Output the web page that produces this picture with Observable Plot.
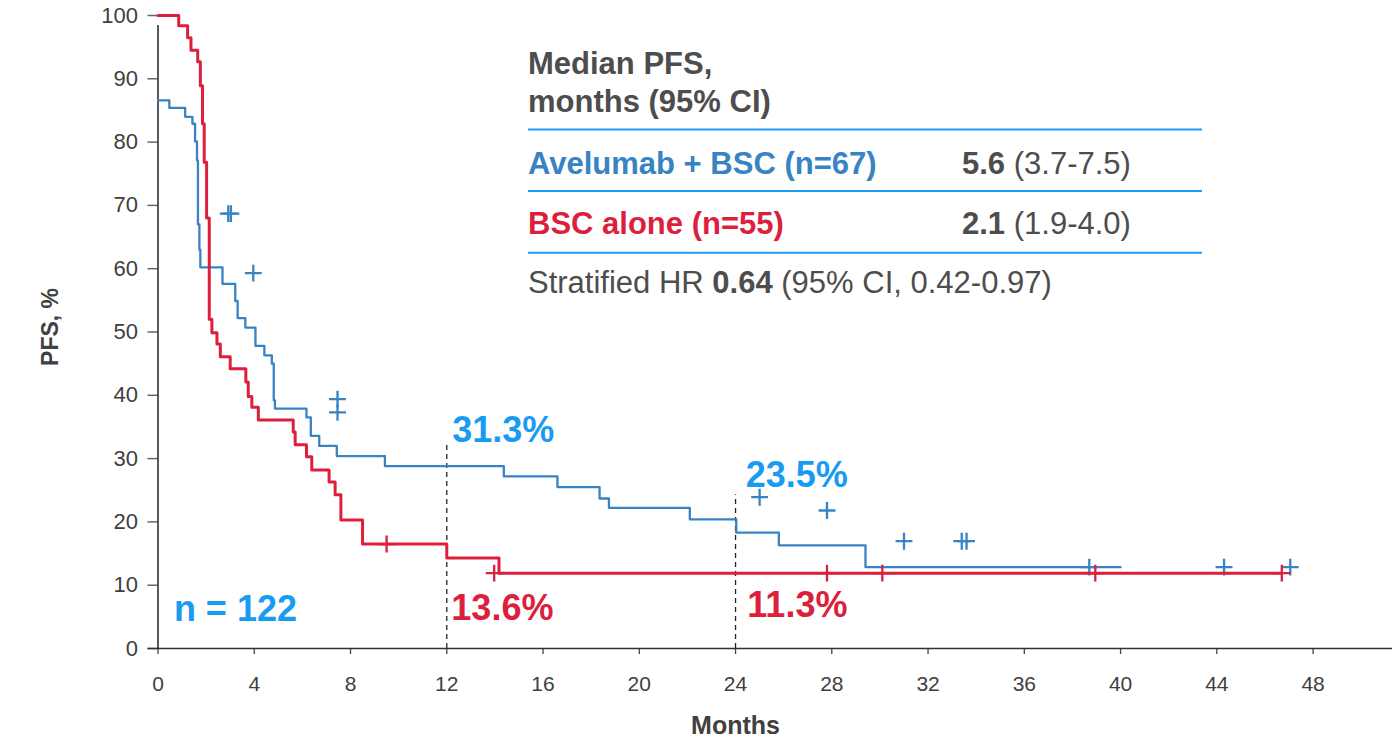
<!DOCTYPE html>
<html><head><meta charset="utf-8">
<script src="https://cdn.jsdelivr.net/npm/d3@7"></script>
<script src="https://cdn.jsdelivr.net/npm/@observablehq/plot@0.6"></script>
<style>
html,body{margin:0;padding:0;background:#fff;}
#chart{width:1392px;height:741px;}
</style></head><body><div id="chart"></div>
<script>
// ---- data ----
const avelumabTime = [0, 0.47, 1.13, 1.43, 1.54, 1.62, 1.66, 1.72, 1.76, 2.68, 3.21, 3.31, 3.63, 4.05, 4.42, 4.73, 4.81, 4.86, 6.17, 6.35, 6.70, 7.43, 9.43, 14.37, 16.6, 18.35, 18.74, 22.1, 24.03, 25.8, 29.4, 40.0];
const avelumabPFS  = [86.6, 85.4, 84.0, 82.9, 80.1, 77.1, 67.0, 63.0, 60.2, 57.6, 54.9, 52.2, 50.7, 47.8, 46.3, 45.0, 39.2, 37.9, 36.5, 33.6, 32.0, 30.4, 28.8, 27.2, 25.5, 23.7, 22.2, 20.4, 18.3, 16.3, 12.85, 12.85];
const bscTime = [0, 0.86, 1.23, 1.37, 1.65, 1.76, 1.85, 1.92, 2.02, 2.13, 2.24, 2.45, 2.59, 3.0, 3.65, 3.75, 3.9, 4.17, 5.62, 5.70, 6.17, 6.39, 7.11, 7.36, 7.6, 8.5, 12.0, 14.17, 46.7];
const bscPFS  = [100, 98.4, 96.5, 94.5, 92.7, 88.9, 82.9, 76.8, 68.0, 52.0, 49.9, 48.1, 46.1, 44.2, 42.1, 39.8, 38.1, 36.1, 34.2, 32.2, 30.3, 28.2, 26.3, 24.3, 20.3, 16.5, 14.3, 11.9, 11.9];
const avelumabCensorTime = [2.92, 3.03, 3.96, 7.46, 7.46, 25.0, 27.8, 31.0, 33.4, 33.6, 38.7, 44.3, 47.05];
const avelumabCensorPFS  = [68.7, 68.7, 59.3, 39.4, 37.3, 23.9, 21.8, 16.95, 16.95, 16.95, 12.85, 12.85, 12.85];
const bscCensorTime = [9.5, 13.97, 27.8, 30.1, 38.95, 46.7];
const bscCensorPFS  = [16.5, 11.9, 11.9, 11.9, 11.9, 11.9];
const xTicks = [0, 4, 8, 12, 16, 20, 24, 28, 32, 36, 40, 44, 48];
const yTicks = [0, 10, 20, 30, 40, 50, 60, 70, 80, 90, 100];
const landmarkMonths = [12, 24];
const landmarkTop = [32.1, 24.3];
const avelumabLandmarkLabels = ["31.3%", "23.5%"];
const avelumabLandmarkX = [12.23, 24.42];
const avelumabLandmarkY = [32.6, 25.5];
const bscLandmarkLabels = ["13.6%", "11.3%"];
const bscLandmarkX = [12.19, 24.49];
const bscLandmarkY = [4.5, 4.9];
const totalN = "n = 122";
const xTitle = "Months";
const yTitle = "PFS, %";
const tableHeader = ["Median PFS,", "months (95% CI)"];
const armLabels = ["Avelumab + BSC (n=67)", "BSC alone (n=55)"];
const armMedians = ["5.6", "2.1"];
const armCI = ["(3.7-7.5)", "(1.9-4.0)"];
const hrParts = [["Stratified HR ", "normal"], ["0.64", "bold"], [" (95% CI, 0.42-0.97)", "normal"]];

// ---- style ----
const FONT = "'Liberation Sans', Arial, Helvetica, sans-serif";
const BLUE = "#3783c3", RED = "#db1f3d", BRIGHT = "#1a9bf2", RULE = "#1e9bf0", GRAY = "#4d4d4d", AXIS = "#404040";

const aveData = avelumabTime.map((t, i) => ({t, s: avelumabPFS[i]}));
const bscData = bscTime.map((t, i) => ({t, s: bscPFS[i]}));
const aveCens = avelumabCensorTime.map((t, i) => ({t, s: avelumabCensorPFS[i]}));
const bscCens = bscCensorTime.map((t, i) => ({t, s: bscCensorPFS[i]}));
const landmarks = landmarkMonths.map((m, i) => ({m, top: landmarkTop[i]}));
const aveLab = avelumabLandmarkLabels.map((l, i) => ({l, x: avelumabLandmarkX[i], y: avelumabLandmarkY[i]}));
const bscLab = bscLandmarkLabels.map((l, i) => ({l, x: bscLandmarkX[i], y: bscLandmarkY[i]}));

const plot = Plot.plot({
  width: 1392, height: 741,
  marginLeft: 157.5, marginRight: 0, marginTop: 15, marginBottom: 93,
  style: {fontFamily: FONT, fontSize: "20px", color: AXIS, background: "#fff"},
  x: {domain: [0, 51.3], axis: null},
  y: {domain: [0, 100], axis: null},
  marks: [
    // y axis ticks + labels
    Plot.ruleY(yTicks, {y: d => d, x1: 0, x2: 0, insetLeft: -10, stroke: "#666", strokeWidth: 1.5}),
    Plot.text(yTicks, {x: 0, y: d => d, text: d => String(d), dx: -20, textAnchor: "end", fill: AXIS, fontSize: 22}),
    // x axis ticks + labels
    Plot.ruleX(xTicks, {x: d => d, y1: 0, y2: 0, insetBottom: -6, stroke: "#444", strokeWidth: 1.3}),
    Plot.text(xTicks, {x: d => d, y: 0, text: d => String(d), dy: 36, fill: AXIS, fontSize: 21}),
    // axis lines
    Plot.ruleY([0], {stroke: "#333", strokeWidth: 1.5, insetLeft: -10}),
    Plot.ruleX([0], {y1: 0, y2: 100, stroke: "#222", strokeWidth: 1.5, insetBottom: -10}),
    // landmark lines
    Plot.ruleX(landmarks, {x: "m", y1: 0, y2: "top", stroke: "#222", strokeWidth: 1.3, strokeDasharray: "5,4"}),
    // curves and censor marks
    Plot.line(aveData, {x: "t", y: "s", curve: "step-after", stroke: BLUE, strokeWidth: 2.3}),
    Plot.dot(aveCens, {x: "t", y: "s", symbol: "plus", r: 5.5, stroke: BLUE, strokeWidth: 2.3}),
    Plot.line(bscData, {x: "t", y: "s", curve: "step-after", stroke: RED, strokeWidth: 3}),
    Plot.dot(bscCens, {x: "t", y: "s", symbol: "plus", r: 5.5, stroke: RED, strokeWidth: 2.3}),
    // annotations
    Plot.text(aveLab, {x: "x", y: "y", text: "l", fill: BRIGHT, fontSize: 36, fontWeight: "bold", textAnchor: "start", lineAnchor: "bottom"}),
    Plot.text(bscLab, {x: "x", y: "y", text: "l", fill: RED, fontSize: 36, fontWeight: "bold", textAnchor: "start", lineAnchor: "bottom"}),
    Plot.text([totalN], {x: 0.66, y: 4.3, text: d => d, fill: BRIGHT, fontSize: 36, fontWeight: "bold", textAnchor: "start", lineAnchor: "bottom"}),
    // axis titles
    Plot.text([xTitle], {x: 24, y: -12.3, text: d => d, fill: AXIS, fontSize: 25, fontWeight: "bold"}),
    Plot.text([yTitle], {x: -4.47, y: 50.8, rotate: -90, text: d => d, fill: AXIS, fontSize: 23, fontWeight: "bold"})
  ]
});
document.getElementById("chart").appendChild(plot);

// ---- median PFS table ----
const svg = d3.select(plot);
const g = svg.append("g").attr("font-family", FONT).attr("font-size", 31).attr("text-anchor", "start").style("white-space", "pre");
const X0 = 528, X1 = 962, XR = 1202;
function textLine(x, y, parts) {
  const t = g.append("text").attr("x", x).attr("y", y).attr("text-anchor", "start");
  parts.forEach(([s, w, c]) => t.append("tspan").text(s).attr("font-weight", w).attr("fill", c));
}
textLine(X0, 73.5, [[tableHeader[0], "bold", GRAY]]);
textLine(X0, 111.5, [[tableHeader[1], "bold", GRAY]]);
[129.5, 191, 252.7].forEach(y => g.append("line").attr("x1", X0).attr("x2", XR).attr("y1", y).attr("y2", y).attr("stroke", RULE).attr("stroke-width", 2));
const rowY = [173.5, 233.5];
const rowC = [BLUE, RED];
armLabels.forEach((a, i) => {
  textLine(X0, rowY[i], [[a, "bold", rowC[i]]]);
  textLine(X1, rowY[i], [[armMedians[i], "bold", GRAY], [" " + armCI[i], "normal", GRAY]]);
});
textLine(X0, 292.7, hrParts.map(([s, w]) => [s, w, GRAY]));
</script>
</body></html>
